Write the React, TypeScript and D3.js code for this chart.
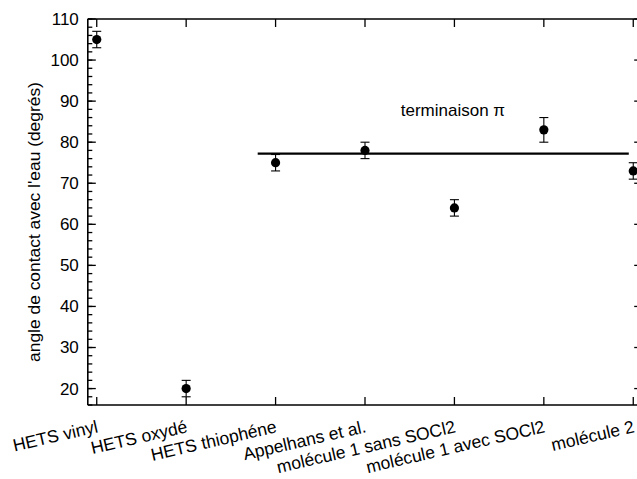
import React from "react";
import * as d3 from "d3";

const categories = [
  "HETS vinyl",
  "HETS oxydé",
  "HETS thiophéne",
  "Appelhans et al.",
  "molécule 1 sans SOCl2",
  "molécule 1 avec SOCl2",
  "molécule 2",
];
const angles = [105, 20, 75, 78, 64, 83, 73];
const errors = [2, 2, 2, 2, 2, 3, 2];
const yMajorTicks = [20, 30, 40, 50, 60, 70, 80, 90, 100, 110];
const yMinorTicks = d3.range(16, 111, 2);
const refLineX = [2.8, 6.95];
const refLineY = 77.2;
const refLabel = "terminaison π";
const refLabelPos = [4.4, 86.4];
const yTitle = "angle de contact avec l'eau (degrés)";

const W = 637;
const H = 479;
const font = "'Liberation Sans', Arial, sans-serif";

export default function App() {
  const x = d3.scaleLinear().domain([0.9, 7.1]).range([87.8, 642.2]);
  const y = d3.scaleLinear().domain([16, 110]).range([405, 19]);
  const [x0, x1] = x.range();
  const [yb, yt] = y.range();
  const positions = categories.map((_, i) => i + 1);
  const lineGen = d3
    .line<number>()
    .x((d) => x(d))
    .y(() => y(refLineY));

  return (
    <svg
      width={W}
      height={H}
      style={{ position: "absolute", left: 0, top: 0, background: "#fff" }}
      fontFamily={font}
    >
      <rect x={0} y={0} width={W} height={H} fill="#fff" />
      {/* frame */}
      <g stroke="#000" strokeWidth={1.6} fill="none">
        <line x1={x0} x2={x1} y1={yt} y2={yt} />
        <line x1={x0} x2={x1} y1={yb} y2={yb} />
        <line x1={x0} x2={x0} y1={yt} y2={yb} />
        <line x1={x1} x2={x1} y1={yt} y2={yb} />
      </g>
      {/* ticks */}
      <g stroke="#000" strokeWidth={1.3}>
        {yMinorTicks.map((v) => (
          <line key={"mn" + v} x1={x0} x2={x0 + 4.5} y1={y(v)} y2={y(v)} />
        ))}
        {yMajorTicks.map((v) => (
          <line key={"mj" + v} x1={x0} x2={x0 + 8} y1={y(v)} y2={y(v)} />
        ))}
        {yMajorTicks.map((v) => (
          <line key={"r" + v} x1={x1} x2={x1 - 8} y1={y(v)} y2={y(v)} />
        ))}
        {positions.map((p) => (
          <g key={"xt" + p}>
            <line x1={x(p)} x2={x(p)} y1={yb} y2={yb - 8} />
            <line x1={x(p)} x2={x(p)} y1={yt} y2={yt + 8} />
          </g>
        ))}
      </g>
      {/* y tick labels */}
      <g fontSize={17} fill="#000" textAnchor="end">
        {yMajorTicks.map((v) => (
          <text key={"yl" + v} x={x0 - 9} y={y(v)} dy="0.35em">
            {v}
          </text>
        ))}
      </g>
      {/* y title */}
      <text
        transform={`translate(40, 222) rotate(-90)`}
        textAnchor="middle"
        fontSize={17.4}
        fill="#000"
      >
        {yTitle}
      </text>
      {/* x labels */}
      <g fontSize={17.5} fill="#000" textAnchor="end">
        {categories.map((c, i) => (
          <text
            key={c}
            transform={`translate(${x(positions[i]) + 2}, 432) rotate(-13)`}
          >
            {c}
          </text>
        ))}
      </g>
      {/* reference line */}
      <path d={lineGen(refLineX) || ""} stroke="#000" strokeWidth={2.2} fill="none" />
      <text x={x(refLabelPos[0])} y={y(refLabelPos[1])} fontSize={17} fill="#000">
        {refLabel}
      </text>
      {/* error bars and points */}
      <g stroke="#000" strokeWidth={1.1}>
        {positions.map((p, i) => (
          <g key={"e" + p}>
            <line x1={x(p)} x2={x(p)} y1={y(angles[i] - errors[i])} y2={y(angles[i] + errors[i])} />
            <line x1={x(p) - 4.5} x2={x(p) + 4.5} y1={y(angles[i] - errors[i])} y2={y(angles[i] - errors[i])} />
            <line x1={x(p) - 4.5} x2={x(p) + 4.5} y1={y(angles[i] + errors[i])} y2={y(angles[i] + errors[i])} />
          </g>
        ))}
      </g>
      <g fill="#000">
        {positions.map((p, i) => (
          <circle key={"c" + p} cx={x(p)} cy={y(angles[i])} r={4.6} />
        ))}
      </g>
    </svg>
  );
}
